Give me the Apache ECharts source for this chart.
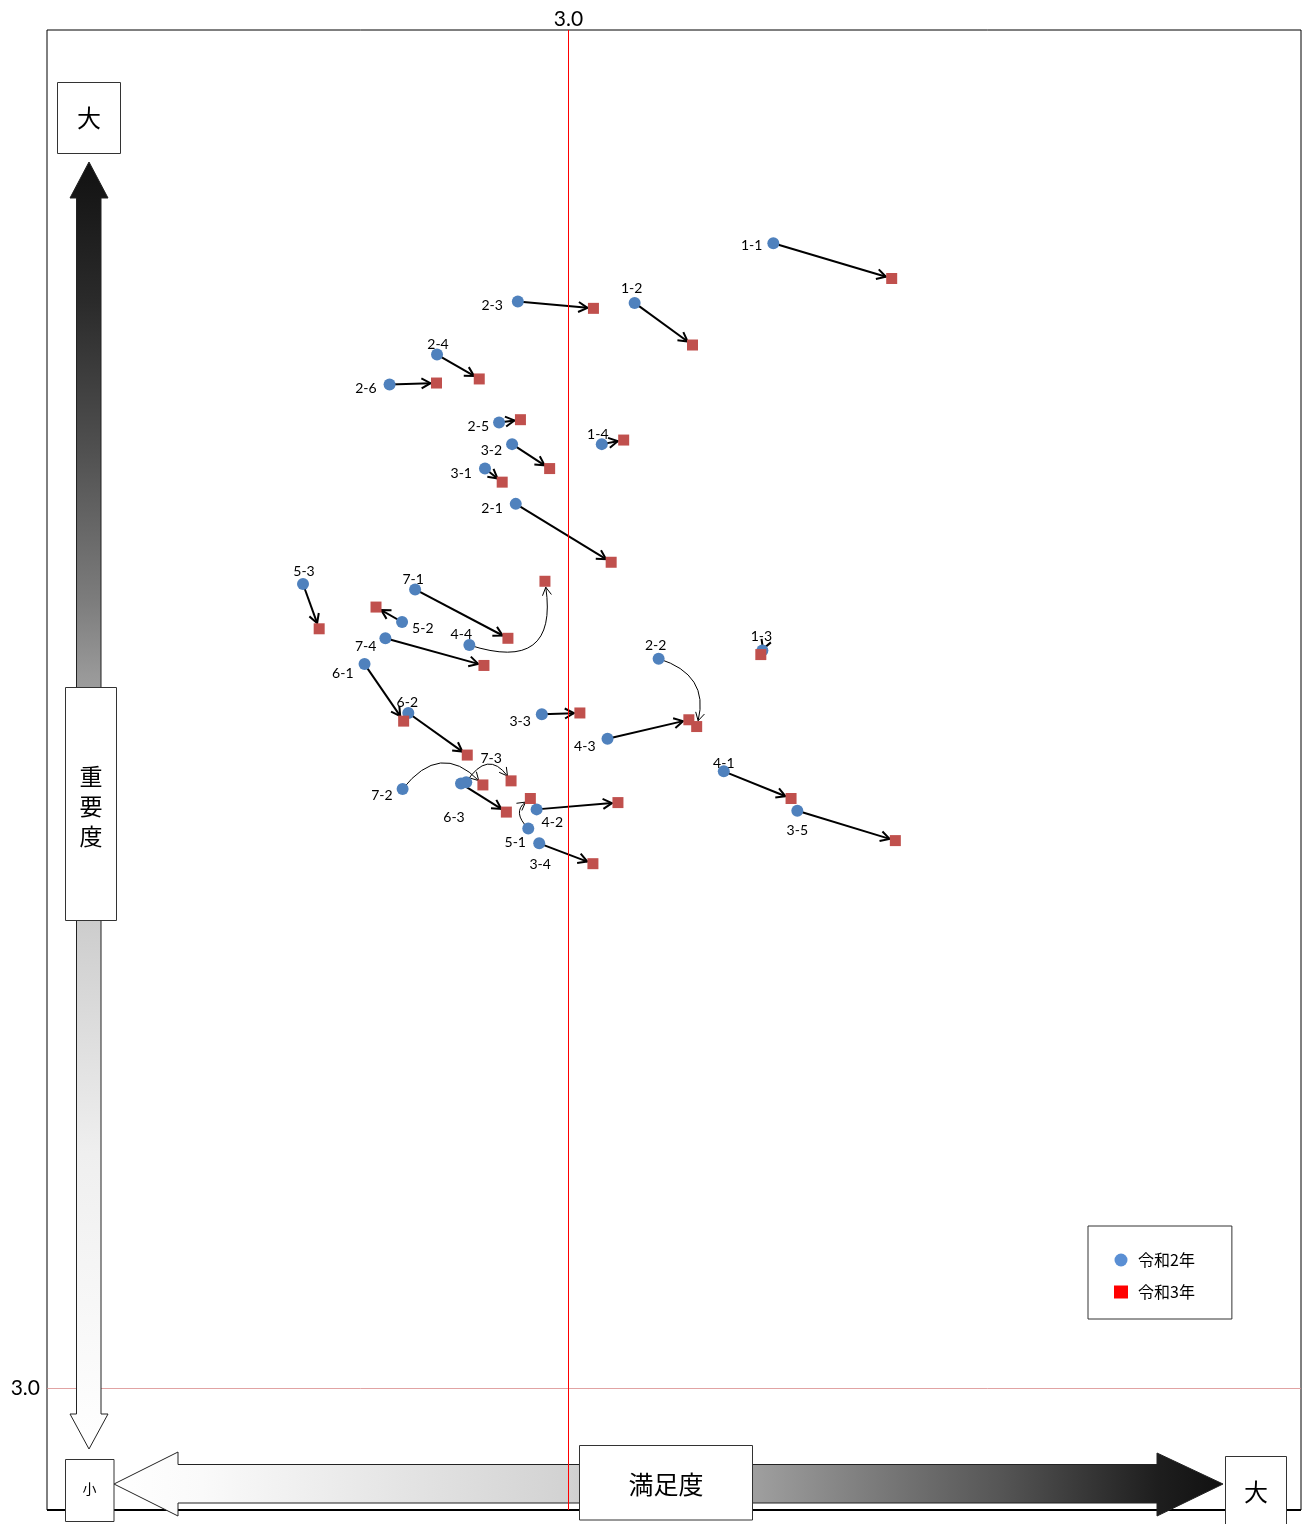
<!DOCTYPE html>
<html><head><meta charset="utf-8">
<script src="https://cdn.jsdelivr.net/npm/echarts@6/dist/echarts.min.js"></script>
<style>html,body{margin:0;padding:0;background:#fff}#main{width:1304px;height:1524px}</style>
</head><body><div id="main"></div>
<script>
// ---- data ----
const items = ['1-1','1-2','1-3','1-4','2-1','2-2','2-3','2-4','2-5','2-6','3-1','3-2','3-3','3-4','3-5',
               '4-1','4-2','4-3','4-4','5-1','5-2','5-3','6-1','6-2','6-3','7-1','7-2','7-3','7-4'];
// 令和2年 (satisfaction, importance)
const r2Satisfaction = [3.393,3.127,3.372,3.064,2.899,3.173,2.903,2.748,2.867,2.657,2.840,2.892,2.949,2.944,3.439,
                        3.298,2.939,3.075,2.810,2.923,2.681,2.491,2.609,2.693,2.794,2.706,2.682,2.804,2.649];
const r2Importance   = [3.843,3.799,3.543,3.695,3.651,3.537,3.800,3.761,3.711,3.739,3.677,3.695,3.496,3.401,3.425,
                        3.454,3.426,3.478,3.547,3.412,3.564,3.592,3.533,3.497,3.445,3.588,3.441,3.446,3.552];
// 令和3年 (satisfaction, importance)
const r3Satisfaction = [3.620,3.238,3.369,3.106,3.082,3.246,3.048,2.829,2.908,2.747,2.873,2.964,3.022,3.047,3.627,
                        3.427,3.095,3.231,2.955,2.927,2.631,2.522,2.684,2.806,2.881,2.884,2.836,2.890,2.838];
const r3Importance   = [3.817,3.768,3.540,3.698,3.608,3.487,3.795,3.743,3.713,3.740,3.667,3.677,3.497,3.386,3.403,
                        3.434,3.431,3.492,3.594,3.434,3.575,3.559,3.491,3.466,3.424,3.552,3.444,3.447,3.532];
const seriesNames = ['令和2年','令和3年'];
const refSatisfaction = 3.0;
const refImportance = 3.0;

// ---- styling helpers (not data) ----
const arrowCurve = {'4-4':0.8,'2-2':-0.47,'7-2':-0.57,'7-3':-0.72,'5-1':-0.58};
const labelPlace = {
 '1-1':['left',0,2],'1-2':['top',-3,4],'1-3':['top',-1,4],'1-4':['top',-4,8],'2-1':['left',-2,5],
 '2-2':['top',-3,5],'2-3':['left',-4,4],'2-4':['top',1,8],'2-5':['left',1,4],'2-6':['left',-2,4],
 '3-1':['left',-2,5],'3-2':['left',1,6],'3-3':['left',0,7],'3-4':['bottom',1,3],'3-5':['bottom',0,2],
 '4-1':['top',0,10],'4-2':['right',-6,13],'4-3':['left',-1,8],'4-4':['top',-8,7],'5-1':['bottom',-13,-4],
 '5-2':['right',-1,6],'5-3':['top',1,6],'6-1':['left',0,9],'6-2':['top',-1,8],'6-3':['bottom',-7,16],
 '7-1':['top',-2,8],'7-2':['left',1,6],'7-3':['top',25,-6],'7-4':['left',2,8]
};
const FONT = 'Lato, "Noto Sans CJK JP", sans-serif';
const JP = '"Noto Sans CJK JP", sans-serif';

const r2Data = items.map((n,i)=>{
  const lp = labelPlace[n];
  return {name:n, value:[r2Satisfaction[i], r2Importance[i]],
          label:{show:true, position:lp[0], offset:[lp[1],lp[2]]}};
});
const r3Data = items.map((n,i)=>({name:n, value:[r3Satisfaction[i], r3Importance[i]]}));
const arrowData = items.map((n,i)=>[r2Satisfaction[i], r2Importance[i], r3Satisfaction[i], r3Importance[i], arrowCurve[n]||0]);

function renderArrow(params, api){
  const a = api.coord([api.value(0), api.value(1)]);
  const b = api.coord([api.value(2), api.value(3)]);
  const c = api.value(4);
  const dx = b[0]-a[0], dy = b[1]-a[1];
  const len = Math.hypot(dx,dy)||1;
  let cp=null, ux, uy;
  if (c) {
    cp = [(a[0]+b[0])/2 - c*dy, (a[1]+b[1])/2 + c*dx];
    const ex=b[0]-cp[0], ey=b[1]-cp[1], el=Math.hypot(ex,ey)||1;
    ux=ex/el; uy=ey/el;
  } else { ux=dx/len; uy=dy/len; }
  const gap = 6;
  const tip = [b[0]-ux*gap, b[1]-uy*gap];
  const head = c ? 8 : 9, half = c ? 4.5 : 5;
  const w = c ? 1 : 2;
  const children = [];
  if (c) children.push({type:'bezierCurve', shape:{x1:a[0],y1:a[1],x2:tip[0],y2:tip[1],cpx1:cp[0],cpy1:cp[1]},
                        style:{fill:null, stroke:'#000', lineWidth:w}});
  else children.push({type:'line', shape:{x1:a[0],y1:a[1],x2:tip[0],y2:tip[1]}, style:{stroke:'#000', lineWidth:w}});
  children.push({type:'polyline', shape:{points:[
      [tip[0]-ux*head-uy*half, tip[1]-uy*head+ux*half], tip,
      [tip[0]-ux*head+uy*half, tip[1]-uy*head-ux*half]]},
      style:{stroke:'#000', lineWidth:w, fill:null}});
  return {type:'group', children};
}

function box(x,y,w,h){ return {type:'rect', z:20, shape:{x,y,width:w,height:h}, style:{fill:'#fff', stroke:'#333', lineWidth:1}}; }
function txt(x,y,t,fs,lh){ return {type:'text', z:21, x, y, style:{text:t, fontSize:fs, fontFamily:JP, fill:'#000', align:'center', verticalAlign:'middle', lineHeight:lh||fs}}; }

const chart = echarts.init(document.getElementById('main'));
chart.setOption({
  animation:false,
  backgroundColor:'#fff',
  grid:{left:47, right:3, top:30, bottom:14, show:true, borderColor:'#000', borderWidth:1, backgroundColor:'transparent'},
  xAxis:{type:'value', min:2.0, max:4.405, axisLine:{show:false}, axisTick:{show:false}, axisLabel:{show:false}, splitLine:{show:false}},
  yAxis:{type:'value', min:2.91, max:4.0, axisLine:{show:false}, axisTick:{show:false}, axisLabel:{show:false}, splitLine:{show:false}},
  legend:{
    orient:'vertical', left:1088, top:1226, padding:[26,37,19,26],
    backgroundColor:'#fff', borderColor:'#333', borderWidth:1, itemWidth:14, itemHeight:13, itemGap:16, z:30,
    textStyle:{fontSize:16, fontFamily:JP, color:'#000', padding:[0,0,0,5]},
    data:[{name:seriesNames[0], icon:'circle', itemStyle:{color:'#5a8fd4', opacity:1}},
          {name:seriesNames[1], icon:'rect', itemStyle:{color:'#ff0000', opacity:1}}]
  },
  graphic:{elements:[
    {type:'line', z:15, shape:{x1:47, y1:1510, x2:1301, y2:1510}, style:{stroke:'#000', lineWidth:2}},
    {type:'polygon', z:3, shape:{points:[[89,162],[70,198],[76.5,198],[76.5,1414],[70,1414],[89,1449],[108,1414],[101,1414],[101,198],[108,198]]},
     style:{stroke:'#222', lineWidth:1, fill:{type:'linear', x:0, y:0, x2:0, y2:1, colorStops:[
       {offset:0,color:'#111'},{offset:0.107,color:'#2a2a2a'},{offset:0.224,color:'#505050'},{offset:0.34,color:'#7c7c7c'},
       {offset:0.40,color:'#999'},{offset:0.6,color:'#cfcfcf'},{offset:0.77,color:'#efefef'},{offset:1,color:'#fff'}]}}},
    {type:'polygon', z:16, shape:{points:[[114,1484],[178,1452],[178,1464.5],[1157,1464.5],[1157,1453],[1223,1484],[1157,1516],[1157,1503],[178,1503],[178,1516]]},
     style:{stroke:'#222', lineWidth:1, fill:{type:'linear', x:0, y:0, x2:1, y2:0, colorStops:[
       {offset:0,color:'#fff'},{offset:0.08,color:'#fafafa'},{offset:0.41,color:'#d2d2d2'},{offset:0.58,color:'#9e9e9e'},
       {offset:0.8,color:'#555'},{offset:0.94,color:'#1e1e1e'},{offset:1,color:'#111'}]}}},
    box(57.5,82.5,63,71), txt(89,118,'大',24),
    box(65.5,687.5,51,233), txt(91,806,'重\n要\n度',23,30),
    box(65.5,1459.5,48.5,62), txt(89.5,1489,'小',14),
    box(579.5,1445.5,173,74.5), txt(666,1484,'満足度',25),
    box(1225.5,1456.5,61,80), txt(1256,1492,'大',24)
  ]},
  series:[
    {type:'scatter', name:'_h', data:[], z:1, silent:true,
     markLine:{silent:true, z:1, symbol:['none','none'], data:[{yAxis:refImportance}],
       lineStyle:{color:'#d98c8c', width:0.8, type:'solid'},
       label:{show:true, position:'start', formatter:'3.0', fontSize:21, fontFamily:FONT, color:'#000', distance:7}}},
    {type:'scatter', name:'_v', data:[], z:17, silent:true,
     markLine:{silent:true, z:17, symbol:['none','none'], data:[{xAxis:refSatisfaction}],
       lineStyle:{color:'#ff0000', width:1, type:'solid'},
       label:{show:true, position:'end', formatter:'3.0', fontSize:21, fontFamily:FONT, color:'#000', distance:0}}},
    {type:'custom', name:'arrows', z:6, silent:true, renderItem:renderArrow, data:arrowData, encode:{x:[0,2], y:[1,3]}},
    {type:'scatter', name:seriesNames[0], z:7, symbol:'circle', symbolSize:12, itemStyle:{color:'#4f81bd', opacity:1},
     label:{show:true, formatter:'{b}', fontSize:14, fontFamily:FONT, color:'#000'}, data:r2Data},
    {type:'scatter', name:seriesNames[1], z:8, symbol:'rect', symbolSize:11, itemStyle:{color:'#c0504d', opacity:1}, data:r3Data}
  ]
});
</script></body></html>
